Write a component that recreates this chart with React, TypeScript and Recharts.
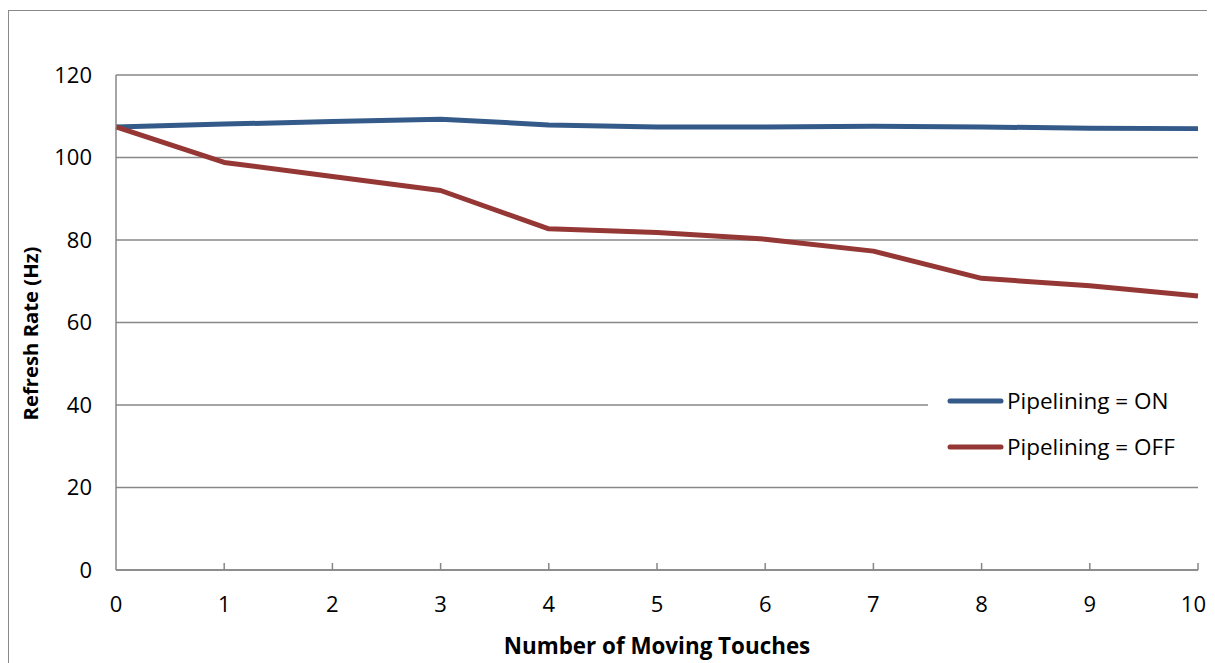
import React from 'react';
import { LineChart, Line, XAxis, YAxis, CartesianGrid, Legend } from 'recharts';

const touches = [0, 1, 2, 3, 4, 5, 6, 7, 8, 9, 10];
const pipeliningOn = [107.4, 108.1, 108.7, 109.3, 107.9, 107.4, 107.4, 107.6, 107.4, 107.1, 107.0];
const pipeliningOff = [107.4, 98.8, 95.4, 92.0, 82.7, 81.8, 80.2, 77.3, 70.7, 68.9, 66.4];
const yTicks = [0, 20, 40, 60, 80, 100, 120];
const xTicks = [0, 1, 2, 3, 4, 5, 6, 7, 8, 9, 10];
const seriesNames = ['Pipelining = ON', 'Pipelining = OFF'];
const seriesColors = ['#345A89', '#953735'];

const data = touches.map((t, i) => ({ x: t, on: pipeliningOn[i], off: pipeliningOff[i] }));

const FONT = '"Open Sans", sans-serif';
const GRID = '#878787';
const lastTick = xTicks[xTicks.length - 1];

const XTick = (props: any) => {
  const { x, y, payload } = props;
  const isLast = payload.value === lastTick;
  return (
    <g>
      {payload.value !== 0 && <line x1={x} y1={y} x2={x} y2={y - 7} stroke={GRID} strokeWidth={1.5} />}
      <text
        x={isLast ? x + 8 : x}
        y={y + 42}
        textAnchor={isLast ? 'end' : 'middle'}
        fill="#000"
        fontSize={22}
        fontFamily={FONT}
      >
        {payload.value}
      </text>
    </g>
  );
};

const LegendBox = () => (
  <div style={{ background: '#fff', width: 280, height: 92, fontFamily: FONT, fontSize: 22.5, color: '#000' }}>
    {seriesNames.map((n, i) => (
      <div key={n} style={{ height: 46, display: 'flex', alignItems: 'center' }}>
        <svg width={79} height={10} style={{ display: 'block' }}>
          <line x1={22} y1={5} x2={73} y2={5} stroke={seriesColors[i]} strokeWidth={5} strokeLinecap="round" />
        </svg>
        <span style={{ lineHeight: '46px' }}>{n}</span>
      </div>
    ))}
  </div>
);

export default function App() {
  return (
    <div style={{ position: 'relative', width: 1207, height: 655, overflow: 'hidden', background: '#fff' }}>
      <style>{`html{overflow:hidden;}`}</style>
      <div
        style={{
          position: 'absolute',
          left: 0,
          top: 2,
          width: 1300,
          height: 800,
          border: '1.5px solid #8a8a8a',
          boxSizing: 'border-box',
        }}
      />
      <div style={{ position: 'absolute', left: 0, top: 0 }}>
        <LineChart width={1250} height={655} data={data} margin={{ top: 67, right: 60, left: 0, bottom: 33 }}>
          <CartesianGrid vertical={false} stroke={GRID} strokeWidth={1.5} />
          <XAxis
            dataKey="x"
            type="number"
            domain={[0, 10]}
            ticks={xTicks}
            height={60}
            tickSize={0}
            tickMargin={0}
            tickLine={false}
            axisLine={{ stroke: GRID, strokeWidth: 1.5 }}
            tick={<XTick />}
            label={{
              content: (p: any) => {
                const vb = p.viewBox;
                return (
                  <text
                    x={vb.x + vb.width / 2}
                    y={vb.y + 75}
                    textAnchor="middle"
                    dominantBaseline="central"
                    fontFamily={FONT}
                    fontSize={22.4}
                    fontWeight="bold"
                    fill="#000"
                  >
                    Number of Moving Touches
                  </text>
                );
              },
            }}
          />
          <YAxis
            type="number"
            domain={[0, 120]}
            ticks={yTicks}
            width={108}
            tickSize={0}
            tickMargin={24}
            tickLine={false}
            axisLine={{ stroke: GRID, strokeWidth: 1.5 }}
            tick={{ fill: '#000', fontSize: 22, fontFamily: FONT }}
            label={{
              content: (p: any) => {
                const vb = p.viewBox;
                const cx = vb.x + 22;
                const cy = vb.y + vb.height / 2 + 11;
                return (
                  <text
                    x={cx}
                    y={cy}
                    transform={`rotate(-90, ${cx}, ${cy})`}
                    textAnchor="middle"
                    dominantBaseline="central"
                    fontFamily={FONT}
                    fontSize={20.3}
                    fontWeight="bold"
                    fill="#000"
                  >
                    Refresh Rate (Hz)
                  </text>
                );
              },
            }}
          />
          <Legend
            layout="vertical"
            align="center"
            verticalAlign="middle"
            content={<LegendBox />}
            wrapperStyle={{ left: 920, top: 370, width: 280, height: 92 }}
          />
          <Line
            name={seriesNames[0]}
            dataKey="on"
            stroke={seriesColors[0]}
            strokeWidth={5}
            dot={false}
            activeDot={false}
            strokeLinejoin="round"
            isAnimationActive={false}
          />
          <Line
            name={seriesNames[1]}
            dataKey="off"
            stroke={seriesColors[1]}
            strokeWidth={5}
            dot={false}
            activeDot={false}
            strokeLinejoin="round"
            isAnimationActive={false}
          />
        </LineChart>
      </div>
    </div>
  );
}
